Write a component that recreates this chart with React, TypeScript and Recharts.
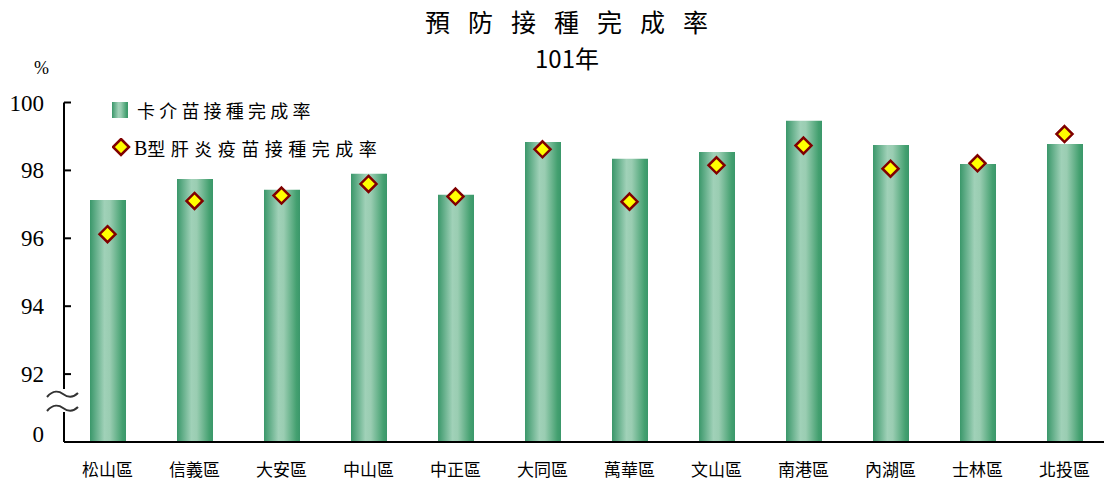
import { ComposedChart, Bar, Line, XAxis, YAxis } from 'recharts'

const categories = ['松山區', '信義區', '大安區', '中山區', '中正區', '大同區', '萬華區', '文山區', '南港區', '內湖區', '士林區', '北投區']
const bcgRate = [97.13, 97.75, 97.43, 97.9, 97.28, 98.84, 98.34, 98.54, 99.46, 98.75, 98.19, 98.78]
const hepBRate = [96.12, 97.1, 97.26, 97.6, 97.23, 98.62, 97.08, 98.15, 98.73, 98.05, 98.21, 99.07]
const yTicks = [90, 92, 94, 96, 98, 100]
const yTickLabels = ['0', '92', '94', '96', '98', '100']

const data = categories.map((name, i) => ({ name, bcg: bcgRate[i], hepB: hepBRate[i] }))

const CJK = '"Noto Sans CJK TC", "Noto Sans", sans-serif'
const SERIF = '"Liberation Serif", "DejaVu Serif", serif'

// y ticks point inward, break at the bottom, "0" sits a bit above the corner
// eslint-disable-next-line @typescript-eslint/no-explicit-any
function YTick(props: any) {
  const { x, y, payload } = props as { x: number; y: number; payload: { value: number } }
  const idx = yTicks.indexOf(payload.value)
  const isBase = payload.value === 90
  return (
    <g>
      {!isBase && <line x1={x} x2={x + 7} y1={y} y2={y} stroke="#000" strokeWidth={2} />}
      <text x={x - 20} y={isBase ? y - 8 : y} dy="0.35em" textAnchor="end" fill="#000" fontSize={23} fontFamily={SERIF}>
        {yTickLabels[idx]}
      </text>
    </g>
  )
}

// eslint-disable-next-line @typescript-eslint/no-explicit-any
function XTick(props: any) {
  const { x, y, payload } = props as { x: number; y: number; payload: { value: string } }
  return (
    <text x={x} y={y} dy={32} textAnchor="middle" fill="#000" fontSize={17} fontFamily={CJK}>
      {payload.value}
    </text>
  )
}

// eslint-disable-next-line @typescript-eslint/no-explicit-any
function Diamond(props: any) {
  const { cx, cy, index } = props as { cx: number; cy: number; index: number }
  if (cx == null || cy == null) return <g key={index} />
  const r = 8
  return (
    <path
      key={index}
      d={`M${cx},${cy - r} L${cx + r},${cy} L${cx},${cy + r} L${cx - r},${cy} Z`}
      fill="#ffff00"
      stroke="#800000"
      strokeWidth={2.5}
    />
  )
}

function LegendBox() {
  const row = { display: 'flex', alignItems: 'center', height: 24, fontFamily: CJK, fontSize: 18, color: '#000', whiteSpace: 'nowrap' } as const
  return (
    <div style={{ position: 'absolute', left: 112, top: 98 }}>
      <div style={{ ...row, letterSpacing: 4.2 }}>
        <svg width={18} height={16} style={{ marginRight: 7 }}>
          <rect x={0} y={0} width={16} height={16} fill="url(#barGrad)" />
        </svg>
        卡介苗接種完成率
      </div>
      <div style={{ ...row, marginTop: 14, letterSpacing: 5.5 }}>
        <svg width={20} height={20} style={{ marginRight: 2 }}>
          <path d="M9,1 L17,9 L9,17 L1,9 Z" fill="#ffff00" stroke="#800000" strokeWidth={2.5} />
        </svg>
        <span style={{ fontFamily: SERIF, letterSpacing: 0, fontSize: 20 }}>B</span>型肝炎疫苗接種完成率
      </div>
    </div>
  )
}

export default function App() {
  return (
    <div style={{ position: 'absolute', left: 0, top: 0, width: 1104, height: 490, overflow: 'hidden', background: '#fff' }}>
      <svg width={1104} height={80} style={{ position: 'absolute', left: 0, top: 0 }}>
        <text x={425} y={25} fontFamily={CJK} fontSize={25} fill="#000" dominantBaseline="middle" letterSpacing={18}>
          預防接種完成率
        </text>
        <text x={567} y={61} fontFamily={CJK} fontSize={24} fill="#000" dominantBaseline="middle" textAnchor="middle">
          101年
        </text>
      </svg>
      <div style={{ position: 'absolute', left: 34, top: 58, fontFamily: SERIF, fontSize: 18, color: '#000' }}>%</div>

      <ComposedChart width={1108} height={490} data={data} margin={{ top: 102.5, right: 0, bottom: 0, left: 0 }}>
        <defs>
          <linearGradient id="barGrad" x1="0" y1="0" x2="1" y2="0">
            <stop offset="0%" stopColor="#3a976a" />
            <stop offset="40%" stopColor="#a0d1b8" />
            <stop offset="55%" stopColor="#9acdb2" />
            <stop offset="90%" stopColor="#44a070" />
            <stop offset="100%" stopColor="#3a976a" />
          </linearGradient>
        </defs>
        <XAxis
          dataKey="name"
          height={48}
          tick={XTick}
          tickLine={false}
          tickSize={0}
          axisLine={{ stroke: '#000', strokeWidth: 2 }}
          interval={0}
        />
        <YAxis
          domain={[90, 100]}
          ticks={yTicks}
          width={64}
          tick={YTick}
          tickLine={false}
          tickSize={0}
          tickMargin={0}
          axisLine={{ stroke: '#000', strokeWidth: 2 }}
          allowDataOverflow
        />
        <Bar dataKey="bcg" name="卡介苗接種完成率" barSize={36} fill="url(#barGrad)" isAnimationActive={false} />
        <Line
          dataKey="hepB"
          name="B型肝炎疫苗接種完成率"
          stroke="none"
          dot={Diamond}
          activeDot={false}
          isAnimationActive={false}
        />
      </ComposedChart>

      <LegendBox />

      {/* axis break marks */}
      <svg width={1104} height={490} style={{ position: 'absolute', left: 0, top: 0, pointerEvents: 'none' }}>
        <rect x={58} y={389} width={12} height={23} fill="#fff" />
        <path d="M47,397 C53,390 59,391 63,394 C67,397 72,399 78,393" fill="none" stroke="#333" strokeWidth={2} />
        <path d="M47,411 C53,404 59,405 63,408 C67,411 72,413 78,407" fill="none" stroke="#333" strokeWidth={2} />
      </svg>
    </div>
  )
}
